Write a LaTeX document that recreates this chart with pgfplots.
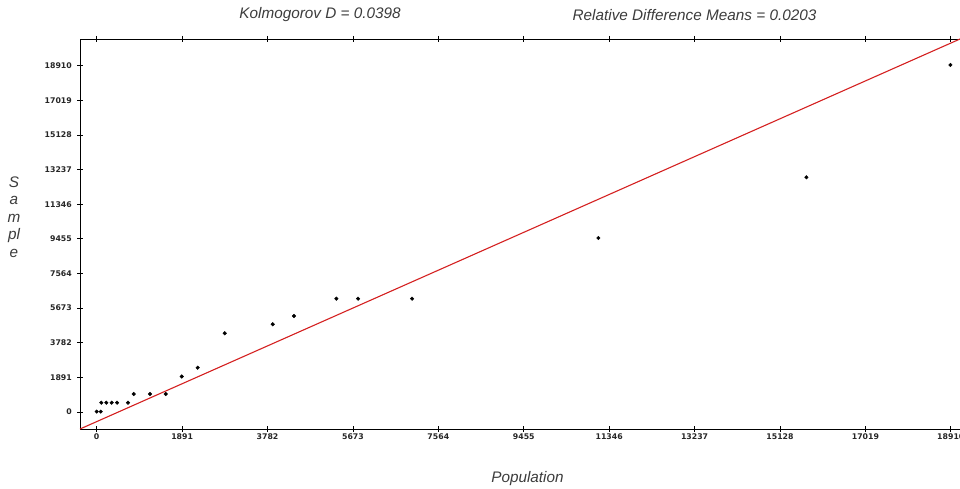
\documentclass[border=0pt]{standalone}
\usepackage{pgfplots}
\pgfplotsset{compat=1.18}
\usepackage{fontspec}
\setmainfont{Liberation Sans}
\newfontfamily\tickfont{DejaVu Sans}
\definecolor{txtgrey}{HTML}{3C3C3C}
\definecolor{fitred}{HTML}{D42020}
\begin{document}
\begin{tikzpicture}[x=1pt,y=1pt]
\useasboundingbox (0,0) rectangle (960,488);
\begin{axis}[
  at={(80pt,59pt)}, anchor=south west,
  scale only axis, width=880pt, height=390pt,
  xmin=-370, xmax=19114, ymin=-928, ymax=20366,
  scaled ticks=false,
  axis x line*=box, axis y line*=left,
  xtick pos=both,
  axis line style={black, line width=0.8pt},
  tick style={black, line width=0.8pt},
  major tick length=6pt, tick align=center,
  xtick={0,1891,3782,5673,7564,9455,11346,13237,15128,17019,18910},
  xticklabels={0,1891,3782,5673,7564,9455,11346,13237,15128,17019,18910},
  ytick={0,1891,3782,5673,7564,9455,11346,13237,15128,17019,18910},
  yticklabels={0,1891,3782,5673,7564,9455,11346,13237,15128,17019,18910},
  ticklabel style={font=\tickfont\bfseries\fontsize{7.8}{8}\selectfont, text=black!85},
  xticklabel style={inner sep=0pt, yshift=-2pt},
  yticklabel style={inner sep=0pt, xshift=-5pt},
  clip=false,
]
\addplot[fitred, line width=1.1pt] coordinates {(-370,-928) (19114,20366)};
\addplot[only marks, mark=*, mark size=1.8pt, black] coordinates {
(0,22) (89,22)
(102,509) (213,509) (332,509) (450,509) (693,509)
(819,983) (1180,983) (1528,983)
(1882,1938) (2236,2419) (2834,4298) (3897,4789) (4369,5242)
(5306,6187) (5786,6187) (6982,6187)
(11107,9501) (15713,12816) (18901,18948)
};
\end{axis}
\node[text=txtgrey, font=\itshape\fontsize{15.3}{18}\selectfont] at (320,473) {Kolmogorov D = 0.0398};
\node[text=txtgrey, font=\itshape\fontsize{15.3}{18}\selectfont] at (694.5,473) {Relative Difference Means = 0.0203};
\node[text=txtgrey, font=\itshape\fontsize{15.3}{18}\selectfont] at (527.5,9) {Population};
\node[text=txtgrey, font=\itshape\fontsize{15.3}{18}\selectfont, align=center] at (14,271) {S\\[-0.5pt]a\\[-0.5pt]m\\[-0.5pt]pl\\[-0.5pt]e};
\end{tikzpicture}
\end{document}
